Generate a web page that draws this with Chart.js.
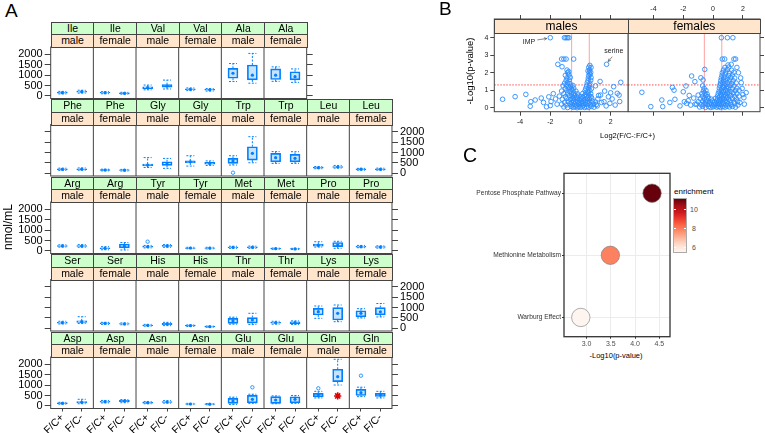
<!DOCTYPE html>
<html>
<head>
<meta charset="utf-8">
<script src="https://cdn.jsdelivr.net/npm/chart.js@4.4.1/dist/chart.umd.min.js"></script>
<style>
  body { margin: 0; background: #fff; }
  #fig { position: relative; width: 765px; height: 433px; overflow: hidden; background: #fff;
         font-family: "Liberation Sans", Arial, Helvetica, sans-serif; }
  #fig canvas { position: absolute; }
  .txt { position: absolute; white-space: nowrap; color: #000; line-height: 1; }
  .strip { position: absolute; box-sizing: border-box; border: 1px solid #444; text-align: center;
           white-space: nowrap; overflow: hidden; z-index: 2; color: #000; }
</style>
</head>
<body>
<div id="fig"></div>
<script>
// ---- panel A: amino acids, nmol/mL ----
const acids = ['Ile', 'Val', 'Ala', 'Phe', 'Gly', 'Trp', 'Leu', 'Arg', 'Tyr', 'Met',
               'Pro', 'Ser', 'His', 'Thr', 'Lys', 'Asp', 'Asn', 'Glu', 'Gln'];
const sexes = ['male', 'female'];
const groups = ['F/C+', 'F/C-'];
const amTicks = [0, 500, 1000, 1500, 2000];

// one row per acid: [male F/C+, male F/C-, female F/C+, female F/C-]
const whiskLow = [
  [90, 130, 100, 80], [290, 330, 250, 230], [690, 610, 700, 650], [140, 150, 120, 110],
  [280, 240, 350, 380], [400, 510, 480, 480], [220, 250, 150, 150], [180, 170, 50, 40],
  [140, 170, 100, 90], [120, 120, 70, 60], [180, 121, 150, 130], [210, 230, 190, 170],
  [100, 130, 90, 50], [200, 180, 200, 180], [484, 320, 500, 550], [80, 100, 140, 150],
  [100, 130, 55, 50], [60, 120, 100, 120], [380, 1006, 444, 380]
];
const q1 = [
  [125, 175, 135, 105], [350, 420, 295, 270], [850, 770, 790, 770], [175, 180, 145, 135],
  [360, 380, 500, 440], [480, 640, 556, 556], [250, 280, 180, 180], [215, 210, 95, 140],
  [175, 210, 120, 115], [150, 150, 90, 78], [230, 200, 180, 160], [250, 290, 225, 195],
  [130, 180, 112, 68], [242, 250, 245, 230], [644, 402, 560, 650], [105, 140, 175, 200],
  [130, 165, 75, 68], [120, 150, 121, 150], [430, 1166, 500, 450]
];
const median = [
  [150, 200, 150, 120], [395, 475, 315, 290], [1090, 1000, 1000, 925], [195, 200, 160, 150],
  [400, 450, 560, 480], [600, 964, 755, 724], [270, 305, 200, 195], [235, 233, 121, 230],
  [200, 233, 137, 130], [168, 168, 102, 90], [267, 280, 200, 180], [271, 320, 242, 210],
  [145, 209, 126, 78], [355, 402, 271, 271], [803, 726, 726, 800], [121, 170, 199, 232],
  [150, 185, 87, 80], [232, 315, 282, 315], [524, 1408, 637, 520]
];
const q3 = [
  [175, 225, 170, 140], [440, 540, 340, 310], [1330, 1490, 1300, 1165], [215, 220, 175, 165],
  [450, 560, 600, 530], [720, 1286, 964, 916], [290, 330, 215, 215], [255, 255, 150, 330],
  [225, 260, 150, 145], [185, 190, 115, 102], [320, 400, 220, 200], [295, 360, 260, 230],
  [160, 240, 140, 90], [484, 520, 295, 310], [967, 1000, 850, 1000], [140, 210, 225, 265],
  [170, 210, 100, 92], [363, 508, 444, 440], [600, 1766, 798, 600]
];
const whiskHigh = [
  [215, 270, 200, 170], [520, 760, 380, 350], [1560, 2050, 1400, 1300], [250, 260, 200, 190],
  [760, 720, 850, 600], [850, 1770, 1050, 1045], [330, 380, 240, 250], [290, 300, 200, 400],
  [260, 300, 170, 170], [220, 230, 135, 120], [440, 460, 260, 240], [340, 561, 290, 260],
  [190, 290, 165, 110], [540, 726, 340, 360], [1079, 1127, 950, 1200], [170, 315, 260, 300],
  [210, 250, 120, 110], [420, 560, 480, 500], [700, 2249, 900, 700]
];
const outliers = [
  ['Trp', 'male', 'F/C+', 30], ['Tyr', 'male', 'F/C+', 442], ['Glu', 'male', 'F/C-', 895],
  ['Gln', 'male', 'F/C+', 847], ['Gln', 'female', 'F/C+', 1457]
];
const starred = ['Gln', 'male', 'F/C-', 476];

// ---- panel B: volcano plots, [log2 fold change, -log10 p] ----
const volcanoXTicks = [-4, -2, 0, 2];
const volcanoYTicks = [0, 1, 2, 3, 4];
const foldCut = 0.585;
const pCut = 1.301;
const volcanoNotes = [{ label: 'IMP', x: -2.0, y: 4.0 }, { label: 'serine', x: 1.73, y: 2.48 }];

const maleVolcano = [
  [-2.0, 4.0], [-1.06, 4.0], [-0.96, 4.0], [-0.86, 4.0], [-0.76, 4.0],
  [-1.25, 2.78], [-1.1, 2.78], [-0.95, 2.78], [-0.45, 2.78], [-1.5, 2.48], [1.73, 2.48],
  [-1.22, 2.34], [-0.89, 2.15], [-0.78, 2.06], [0.62, 2.42], [0.7, 2.3], [0.55, 2.31], [0.6, 2.16], [0.5, 2.1],
  [-5.16, 0.48], [-4.33, 0.63], [-3.62, 0.76], [-3.29, 0.34], [-3.33, 0.08], [-3.0, 0.44], [-2.6, 0.55],
  [-2.45, 0.3], [-2.25, 0.05], [-2.1, 0.62], [-1.95, 0.35], [-2.0, 0.12], [-1.8, 0.8], [-1.65, 0.5], [-1.55, 0.2],
  [2.67, 1.45], [2.44, 0.82], [2.56, 0.72], [2.6, 0.35], [2.2, 1.2], [2.1, 0.5], [2.0, 0.85], [1.95, 0.25],
  [1.85, 0.62], [2.3, 0.15], [1.7, 0.1], [1.6, 0.95], [1.56, 0.34], [1.4, 0.3], [1.33, 0.72], [1.3, 1.5],
  [1.2, 0.7], [1.11, 0.1], [1.0, 1.25],
  [-1.1, 0.04], [-0.85, 0.01], [-0.62, 0.07], [-0.48, 0.02], [-0.35, 0.05], [-0.22, 0.0], [-0.1, 0.06],
  [0.02, 0.02], [0.14, 0.08], [0.27, 0.01], [0.4, 0.05], [0.55, 0.02], [0.72, 0.07], [0.9, 0.03],
  [-1.25, 0.2], [-0.95, 0.15], [-0.7, 0.22], [-0.55, 0.16], [-0.4, 0.2], [-0.28, 0.14], [-0.15, 0.21],
  [-0.03, 0.17], [0.1, 0.23], [0.22, 0.15], [0.35, 0.19], [0.5, 0.22], [0.66, 0.16], [0.85, 0.2], [1.05, 0.18],
  [-1.05, 0.31], [-0.82, 0.36], [-0.6, 0.3], [-0.45, 0.35], [-0.3, 0.32], [-0.18, 0.37], [-0.05, 0.3],
  [0.08, 0.34], [0.2, 0.38], [0.33, 0.31], [0.47, 0.36], [0.62, 0.33], [0.8, 0.37], [1.0, 0.32],
  [-1.2, 0.48], [-0.9, 0.53], [-0.65, 0.47], [-0.5, 0.52], [-0.36, 0.49], [-0.22, 0.54], [-0.08, 0.47],
  [0.05, 0.51], [0.18, 0.55], [0.3, 0.48], [0.45, 0.52], [0.6, 0.49], [0.75, 0.54], [1.15, 0.5],
  [-1.4, 0.66], [-1.0, 0.63], [-0.75, 0.68], [-0.55, 0.64], [-0.4, 0.67], [-0.25, 0.62], [-0.1, 0.66],
  [0.08, 0.63], [0.25, 0.68], [0.4, 0.64], [0.55, 0.67], [0.7, 0.63],
  [-1.1, 0.8], [-0.85, 0.83], [-0.6, 0.78], [-0.42, 0.82], [-0.2, 0.79], [0.15, 0.81], [0.35, 0.78], [0.52, 0.83], [0.68, 0.8],
  [-1.25, 0.95], [-0.9, 0.98], [-0.7, 0.93], [-0.5, 0.97], [-0.3, 0.94], [0.3, 0.96], [0.48, 0.93], [0.62, 0.98],
  [-1.0, 1.1], [-0.8, 1.13], [-0.6, 1.08], [-0.45, 1.12], [0.35, 1.09], [0.55, 1.12], [0.72, 1.08],
  [-1.15, 1.25], [-0.9, 1.28], [-0.65, 1.23], [-0.5, 1.27], [0.4, 1.24], [0.6, 1.27],
  [-1.05, 1.4], [-0.85, 1.43], [-0.7, 1.38], [0.45, 1.42], [0.62, 1.39],
  [-0.95, 1.55], [-0.75, 1.58], [0.5, 1.54], [0.68, 1.57],
  [-0.9, 1.7], [-0.68, 1.73], [0.52, 1.69], [0.7, 1.72],
  [-1.0, 1.85], [-0.78, 1.88], [0.55, 1.84], [0.64, 1.9],
  [-0.85, 2.0], [0.58, 2.0], [0.68, 2.02]
];

const femaleVolcano = [
  [0.56, 4.0], [0.96, 4.0], [1.33, 4.0], [0.62, 2.78], [0.78, 2.78], [1.4, 2.78], [1.51, 2.78],
  [1.0, 2.44], [1.22, 2.48],
  [-4.78, 0.88], [-4.18, 0.06], [-3.44, 0.44], [-3.38, 0.06], [-2.9, 0.3], [-2.73, 1.16], [-2.62, 1.0],
  [-2.56, 0.48], [-2.22, 0.1], [-2.0, 0.91], [-1.93, 0.34], [-1.82, 1.24], [-1.78, 0.25], [-1.67, 0.4],
  [-1.6, 0.7], [-1.5, 0.15], [-1.44, 1.81], [-1.3, 0.55], [-1.22, 1.49], [-1.2, 0.2], [-1.0, 0.72],
  [-0.82, 1.71], [-0.67, 1.58], [-0.56, 2.19],
  [2.22, 0.86], [2.1, 0.2], [2.07, 0.57], [2.0, 0.75], [1.95, 1.1], [1.89, 1.43], [1.85, 1.7], [1.8, 0.3],
  [1.75, 1.0], [1.7, 2.0], [1.67, 0.15], [1.6, 2.3],
  [-0.9, 0.04], [-0.7, 0.08], [-0.5, 0.02], [-0.3, 0.06], [-0.15, 0.01], [0.0, 0.05], [0.12, 0.09], [0.25, 0.03],
  [0.38, 0.07], [0.5, 0.02], [0.65, 0.06], [0.8, 0.03], [0.95, 0.08], [1.1, 0.04], [1.3, 0.07], [1.5, 0.03],
  [-1.1, 0.2], [-0.8, 0.17], [-0.6, 0.22], [-0.4, 0.18], [-0.25, 0.21], [-0.1, 0.16], [0.05, 0.2], [0.18, 0.23],
  [0.3, 0.17], [0.42, 0.21], [0.55, 0.18], [0.7, 0.22], [0.85, 0.17], [1.0, 0.21], [1.2, 0.18], [1.45, 0.22],
  [-1.0, 0.34], [-0.7, 0.37], [-0.5, 0.33], [-0.35, 0.36], [-0.2, 0.32], [-0.05, 0.37], [0.1, 0.34], [0.25, 0.38],
  [0.4, 0.33], [0.52, 0.36], [0.65, 0.32], [0.8, 0.37], [0.95, 0.34], [1.15, 0.38], [1.4, 0.33], [1.65, 0.36],
  [-0.85, 0.5], [-0.6, 0.53], [-0.45, 0.48], [-0.3, 0.52], [-0.12, 0.49], [0.15, 0.53], [0.3, 0.5],
  [0.45, 0.47], [0.6, 0.52], [0.72, 0.49], [0.9, 0.53], [1.05, 0.48], [1.3, 0.52], [1.55, 0.5],
  [-0.7, 0.65], [-0.5, 0.68], [-0.35, 0.63], [0.3, 0.66], [0.45, 0.63], [0.58, 0.68], [0.7, 0.64],
  [0.85, 0.67], [1.0, 0.63], [1.2, 0.68], [1.45, 0.64], [1.75, 0.66],
  [-0.75, 0.8], [-0.55, 0.83], [-0.4, 0.78], [0.35, 0.81], [0.5, 0.79], [0.62, 0.83], [0.78, 0.78],
  [0.95, 0.82], [1.1, 0.79], [1.35, 0.83], [1.6, 0.8],
  [-0.65, 0.95], [-0.48, 0.98], [0.4, 0.94], [0.55, 0.97], [0.7, 0.93], [0.85, 0.98], [1.0, 0.95], [1.2, 0.92], [1.5, 0.97],
  [-0.6, 1.1], [0.42, 1.12], [0.58, 1.08], [0.72, 1.13], [0.9, 1.09], [1.05, 1.12], [1.3, 1.08], [1.6, 1.11],
  [-0.7, 1.25], [0.45, 1.27], [0.62, 1.23], [0.78, 1.26], [0.95, 1.22], [1.15, 1.27], [1.4, 1.24],
  [0.5, 1.4], [0.65, 1.43], [0.8, 1.38], [1.0, 1.42], [1.25, 1.39], [1.55, 1.41],
  [0.52, 1.55], [0.7, 1.58], [0.88, 1.53], [1.1, 1.57], [1.35, 1.54],
  [0.55, 1.7], [0.75, 1.73], [0.95, 1.68], [1.2, 1.72], [1.45, 1.69],
  [0.6, 1.85], [0.8, 1.88], [1.05, 1.83], [1.3, 1.87],
  [0.62, 2.0], [0.85, 2.03], [1.1, 1.98], [1.4, 2.02],
  [0.7, 2.15], [0.95, 2.18], [1.25, 2.14], [0.8, 2.3], [1.05, 2.32]
];

// ---- panel C: pathway enrichment ----
const pathways = ['Warburg Effect', 'Methionine Metabolism', 'Pentose Phosphate Pathway'];
const pathwayP = [2.88, 3.49, 4.35];
const pathwayEnrichment = [5.55, 7.9, 11.05];
const enrichTicks = [6, 8, 10];
const pTicks = [3, 3.5, 4, 4.5];

// ---------------------------------------------------------------
const family = '"Liberation Sans", Arial, Helvetica, sans-serif';
Chart.defaults.font.family = family;
Chart.defaults.color = '#000';
const boxBlue = '#0080ff';
const fig = document.getElementById('fig');

function addCanvas(left, top, w, h) {
  const c = document.createElement('canvas');
  c.width = w; c.height = h;
  Object.assign(c.style, { left: left + 'px', top: top + 'px', width: w + 'px', height: h + 'px' });
  fig.appendChild(c);
  return c;
}
function addText(text, left, top, size, css) {
  const d = document.createElement('div');
  d.className = 'txt';
  d.textContent = text;
  Object.assign(d.style, { left: left + 'px', top: top + 'px', fontSize: size + 'px' }, css || {});
  fig.appendChild(d);
  return d;
}
function addCentered(text, cx, cy, size, rotate, css) {
  return addText(text, cx, cy, size, Object.assign({
    transform: 'translate(-50%,-50%)' + (rotate ? ' rotate(-90deg)' : '')
  }, css || {}));
}
function addStrip(text, left, top, w, h, bg, size) {
  const d = document.createElement('div');
  d.className = 'strip';
  Object.assign(d.style, {
    left: left + 'px', top: top + 'px', width: (w + 1) + 'px', height: (h + 1) + 'px',
    background: bg, fontSize: size + 'px', lineHeight: (h - 1) + 'px'
  });
  d.textContent = text;
  fig.appendChild(d);
}

const fixSize = size => ax => {
  if (ax.isHorizontal()) ax.height = size; else ax.width = size;
  ax.paddingLeft = ax.paddingRight = ax.paddingTop = ax.paddingBottom = 0;
};
const setTicks = values => ax => { ax.ticks = values.map(v => ({ value: v })); };

function line(ctx, x0, y0, x1, y1) {
  ctx.beginPath(); ctx.moveTo(x0, y0); ctx.lineTo(x1, y1); ctx.stroke();
}

// panel border plus separators between cells
const frame = {
  id: 'frame',
  afterDatasetsDraw(chart, args, opts) {
    const { ctx, chartArea: a } = chart;
    ctx.save();
    ctx.strokeStyle = opts.color || '#444';
    ctx.lineWidth = opts.width || 1;
    ctx.strokeRect(a.left, a.top, a.right - a.left, a.bottom - a.top);
    if (opts.cells) {
      const x = chart.scales.x;
      for (let c = 1; c < opts.cells; c++) {
        const px = x.getPixelForValue(c * opts.span);
        line(ctx, px, a.top, px, a.bottom);
      }
    }
    ctx.restore();
  }
};

// dashed whiskers of the box plots, read from the box dataset
const whiskers = {
  id: 'whiskers',
  afterDatasetsDraw(chart) {
    const { ctx, scales: { x, y } } = chart;
    ctx.save();
    ctx.strokeStyle = boxBlue;
    ctx.lineWidth = 1;
    ctx.setLineDash([2, 1.5]);
    chart.data.datasets[0].data.forEach(b => {
      const px = x.getPixelForValue(b.x);
      [[b.y[1], b.hi], [b.y[0], b.lo]].forEach(([from, to]) => {
        const y0 = y.getPixelForValue(from), y1 = y.getPixelForValue(to);
        line(ctx, px, y0, px, y1);
        line(ctx, px - 4, y1, px + 4, y1);
      });
    });
    ctx.restore();
  }
};

// ---------------- panel A ----------------
const A = { left: 50.7, cellW: 42.66, plotH: 51.5, stripH: 12.75,
            rowTop: [47, 124.5, 202, 279.5, 357], yMin: -130, yMax: 2360, span: 2.2 };

const panels = [];
acids.forEach((acid, a) => sexes.forEach((sex, s) => panels.push({ acid, a, s })));
const panelRows = [panels.slice(0, 6)];
for (let i = 6; i < panels.length; i += 8) panelRows.push(panels.slice(i, i + 8));

function amAxis(position, labelled, width) {
  return {
    type: 'linear', position, min: A.yMin, max: A.yMax,
    afterBuildTicks: setTicks(amTicks),
    afterFit: fixSize(width),
    ticks: { autoSkip: false, callback: v => labelled ? String(v) : '', font: { size: 11 }, color: '#000', padding: 2 },
    grid: { drawOnChartArea: false, tickLength: 6, color: '#444' },
    border: { display: false }
  };
}

panelRows.forEach((row, r) => {
  const top = A.rowTop[r];
  const canvasTop = Math.floor(top) - 10;
  const padTop = top - canvasTop;
  const last = r === panelRows.length - 1;
  const canvasH = last ? 433 - canvasTop : Math.ceil(top + A.plotH + 10) - canvasTop;
  const canvasW = 430;
  const right = A.left + row.length * A.cellW;
  const labelsLeft = r % 2 === 0;

  const boxes = [], meds = [], outs = [], stars = [], tickPos = [];
  row.forEach((p, c) => {
    const cellLeft = A.left + c * A.cellW;
    addStrip(p.acid, cellLeft, top - 2 * A.stripH, A.cellW, A.stripH, '#ccffcc', 10.5);
    addStrip(sexes[p.s], cellLeft, top - A.stripH, A.cellW, A.stripH, '#ffe5cc', 10.5);
    groups.forEach((g, gi) => {
      const k = p.s * 2 + gi;
      const x = c * A.span + 0.6 + gi;
      tickPos.push(x);
      boxes.push({ x, y: [q1[p.a][k], q3[p.a][k]], lo: whiskLow[p.a][k], hi: whiskHigh[p.a][k] });
      meds.push({ x, y: median[p.a][k] });
      outliers.filter(o => o[0] === p.acid && o[1] === sexes[p.s] && o[2] === g)
        .forEach(o => outs.push({ x, y: o[3] }));
      if (starred[0] === p.acid && starred[1] === sexes[p.s] && starred[2] === g) stars.push({ x, y: starred[3] });
    });
  });

  const xAxis = {
    type: 'linear', min: 0, max: row.length * A.span, offset: false, display: last,
    grid: { offset: false, drawOnChartArea: false, tickLength: 3, color: '#444' },
    border: { display: false }
  };
  if (last) {
    Object.assign(xAxis, {
      afterBuildTicks: setTicks(tickPos),
      afterFit: fixSize(canvasH - padTop - A.plotH),
      ticks: { autoSkip: false, minRotation: 45, maxRotation: 45, padding: 0, font: { size: 10.5 }, color: '#000',
               callback: (v, i) => groups[i % 2] }
    });
  }

  new Chart(addCanvas(0, canvasTop, canvasW, canvasH), {
    type: 'bar',
    data: {
      datasets: [
        { type: 'bar', data: boxes, backgroundColor: 'rgba(0,128,255,0.22)', borderColor: boxBlue,
          borderWidth: 1, borderSkipped: false, barThickness: 10 },
        { type: 'scatter', data: meds, pointRadius: 1.6, backgroundColor: boxBlue, borderWidth: 0 },
        { type: 'scatter', data: outs, pointRadius: 1.7, backgroundColor: 'transparent', borderColor: boxBlue, borderWidth: 0.8 },
        { type: 'scatter', data: stars, pointStyle: 'star', pointRadius: 3.6, borderColor: '#e00000', borderWidth: 1.6 }
      ]
    },
    options: {
      animation: false, responsive: false, events: [],
      layout: { autoPadding: false, padding: { top: padTop, bottom: last ? 0 : canvasH - padTop - A.plotH, left: 0, right: 0 } },
      plugins: { legend: { display: false }, tooltip: { enabled: false }, frame: { cells: row.length, span: A.span } },
      scales: {
        x: xAxis,
        y: amAxis('left', labelsLeft, A.left),
        y2: amAxis('right', !labelsLeft, canvasW - right)
      }
    },
    plugins: [frame, whiskers]
  });
});

addText('A', 5, 0.8, 19);
addCentered('nmol/mL', 8, 227, 12, true);

// ---------------- panel B ----------------
const vxRange = { min: -5.71, max: 3.15 };
const vyRange = { min: -0.23, max: 5.07 };
const vPoint = { pointRadius: 2.3, borderColor: '#2a8cff', backgroundColor: 'transparent', borderWidth: 0.9 };

function vAxis(range, position, labelled, size, values) {
  return Object.assign({ type: 'linear' }, range, {
    position,
    afterBuildTicks: setTicks(values),
    afterFit: fixSize(size),
    ticks: { autoSkip: false, maxRotation: 0, callback: v => labelled ? String(v) : '', font: { size: 7 }, color: '#222', padding: 2 },
    grid: { drawOnChartArea: false, tickLength: 4, color: '#444' },
    border: { display: false }
  });
}

const cutLines = {
  id: 'cutLines',
  beforeDatasetsDraw(chart) {
    const { ctx, chartArea: a, scales: { x, y } } = chart;
    ctx.save();
    ctx.lineWidth = 1;
    ctx.strokeStyle = 'rgba(255,70,70,0.5)';
    [-foldCut, foldCut].forEach(v => {
      const px = x.getPixelForValue(v);
      line(ctx, px, a.top, px, a.bottom);
    });
    ctx.setLineDash([1.5, 1.5]);
    ctx.strokeStyle = 'rgba(255,0,0,0.7)';
    const py = y.getPixelForValue(pCut);
    line(ctx, a.left, py, a.right, py);
    ctx.restore();
  }
};

const noteLayout = {
  IMP: { tx: -15, ty: 4.4, align: 'right', from: [-13, 2.2], to: [-3.5, 0.8] },
  serine: { tx: 7.3, ty: -13.6, align: 'center', from: [5.7, -7.6], to: [1.6, -2.8] }
};
const notes = {
  id: 'notes',
  afterDatasetsDraw(chart) {
    const { ctx, scales: { x, y } } = chart;
    ctx.save();
    ctx.fillStyle = '#222';
    ctx.strokeStyle = '#555';
    ctx.lineWidth = 0.7;
    ctx.font = '7px ' + family;
    ctx.textBaseline = 'middle';
    volcanoNotes.forEach(n => {
      const L = noteLayout[n.label];
      const px = x.getPixelForValue(n.x), py = y.getPixelForValue(n.y);
      ctx.textAlign = L.align;
      ctx.fillText(n.label, px + L.tx, py + L.ty);
      const x0 = px + L.from[0], y0 = py + L.from[1], x1 = px + L.to[0], y1 = py + L.to[1];
      line(ctx, x0, y0, x1, y1);
      const ang = Math.atan2(y1 - y0, x1 - x0), h = 3;
      ctx.beginPath();
      ctx.moveTo(x1 - h * Math.cos(ang - 0.45), y1 - h * Math.sin(ang - 0.45));
      ctx.lineTo(x1, y1);
      ctx.lineTo(x1 - h * Math.cos(ang + 0.45), y1 - h * Math.sin(ang + 0.45));
      ctx.stroke();
    });
    ctx.restore();
  }
};

const baseOpts = { animation: false, responsive: false, events: [] };

new Chart(addCanvas(440, 0, 189, 126), {
  type: 'scatter',
  data: { datasets: [Object.assign({ data: maleVolcano.map(([x, y]) => ({ x, y })) }, vPoint)] },
  options: Object.assign({}, baseOpts, {
    layout: { autoPadding: false, padding: { top: 15, bottom: 0, left: 0, right: 1 } },
    plugins: { legend: { display: false }, tooltip: { enabled: false }, frame: {} },
    scales: {
      x: vAxis(vxRange, 'bottom', true, 14.3, volcanoXTicks),
      xt: vAxis(vxRange, 'top', false, 4, volcanoXTicks),
      y: vAxis(vyRange, 'left', true, 54.3, volcanoYTicks)
    }
  }),
  plugins: [cutLines, frame, notes]
});

new Chart(addCanvas(628, 0, 137, 116), {
  type: 'scatter',
  data: { datasets: [Object.assign({ data: femaleVolcano.map(([x, y]) => ({ x, y })) }, vPoint)] },
  options: Object.assign({}, baseOpts, {
    layout: { autoPadding: false, padding: { top: 5, bottom: 0, left: 0, right: 0 } },
    plugins: { legend: { display: false }, tooltip: { enabled: false }, frame: {} },
    scales: {
      x: vAxis(vxRange, 'bottom', false, 4.3, volcanoXTicks),
      xt: vAxis(vxRange, 'top', true, 14, volcanoXTicks),
      y: vAxis(vyRange, 'right', false, 5, volcanoYTicks)
    }
  }),
  plugins: [cutLines, frame]
});

addStrip('males', 494.3, 19, 133.4, 14.3, '#ffe5cc', 12);
addStrip('females', 627.7, 19, 132.3, 14.3, '#ffe5cc', 12);
addCentered('-Log10(p-value)', 470, 71, 9.5, true);
addCentered('Log2(F/C-:F/C+)', 627.5, 136, 7.5, false);
addText('B', 439, -0.8, 19);

// ---------------- panel C ----------------
const reds = ['#fff5f0', '#fee0d2', '#fcbba1', '#fc9272', '#fb6a4a', '#ef3b2c', '#cb181d', '#a50f15', '#67000d'];
function redAt(t) {
  const f = Math.max(0, Math.min(1, t)) * (reds.length - 1);
  const i = Math.min(reds.length - 2, Math.floor(f)), u = f - i;
  const a = parseInt(reds[i].slice(1), 16), b = parseInt(reds[i + 1].slice(1), 16);
  const ch = s => Math.round(((a >> s) & 255) * (1 - u) + ((b >> s) & 255) * u);
  return `rgb(${ch(16)},${ch(8)},${ch(0)})`;
}
const eMin = Math.min(...pathwayEnrichment), eMax = Math.max(...pathwayEnrichment);

new Chart(addCanvas(440, 165, 232, 184), {
  type: 'scatter',
  data: {
    datasets: [{
      data: pathwayP.map((p, i) => ({ x: p, y: i + 1 })),
      pointRadius: 9.2,
      backgroundColor: pathwayEnrichment.map(e => redAt((e - eMin) / (eMax - eMin))),
      borderColor: '#777', borderWidth: 0.6
    }]
  },
  options: Object.assign({}, baseOpts, {
    layout: { autoPadding: false, padding: { top: 8.3, bottom: 0, left: 0, right: 2 } },
    plugins: { legend: { display: false }, tooltip: { enabled: false }, frame: { color: '#333', width: 1.3 } },
    scales: {
      x: { type: 'linear', min: 2.534, max: 4.72, afterBuildTicks: setTicks(pTicks), afterFit: fixSize(12.3),
           ticks: { autoSkip: false, maxRotation: 0, font: { size: 7 }, color: '#4d4d4d', padding: 1 },
           grid: { color: '#ececec', tickColor: '#333', tickLength: 2 }, border: { display: false } },
      y: { type: 'linear', min: 0.69, max: 3.32, afterBuildTicks: setTicks([1, 2, 3]), afterFit: fixSize(124),
           ticks: { autoSkip: false, font: { size: 6.6 }, color: '#333', padding: 1, callback: v => pathways[v - 1] },
           grid: { color: '#ececec', tickColor: '#333', tickLength: 2 }, border: { display: false } }
    }
  }),
  plugins: [frame]
});

// colour bar legend
const bar = { left: 674.3, top: 199, w: 11.4, h: 52.7 };
const grad = document.createElement('div');
Object.assign(grad.style, {
  position: 'absolute', left: bar.left + 'px', top: bar.top + 'px', width: bar.w + 'px', height: bar.h + 'px',
  background: 'linear-gradient(to top, ' + reds.join(', ') + ')', outline: '0.5px solid #aaa'
});
fig.appendChild(grad);
enrichTicks.forEach(v => {
  const y = bar.top + bar.h - (v - eMin) / (eMax - eMin) * bar.h;
  addCentered(String(v), 694, y, 7, false, { color: '#4d4d4d' });
  [bar.left, bar.left + bar.w - 2].forEach(x => {
    const t = document.createElement('div');
    Object.assign(t.style, { position: 'absolute', left: x + 'px', top: (y - 0.5) + 'px', width: '2px', height: '1px', background: '#fff' });
    fig.appendChild(t);
  });
});
addText('enrichment', 674, 188, 8);
addCentered('-Log10(p-value)', 616, 356, 7.5, false);
addText('C', 463, 145.8, 19.5);
</script>
</body>
</html>
